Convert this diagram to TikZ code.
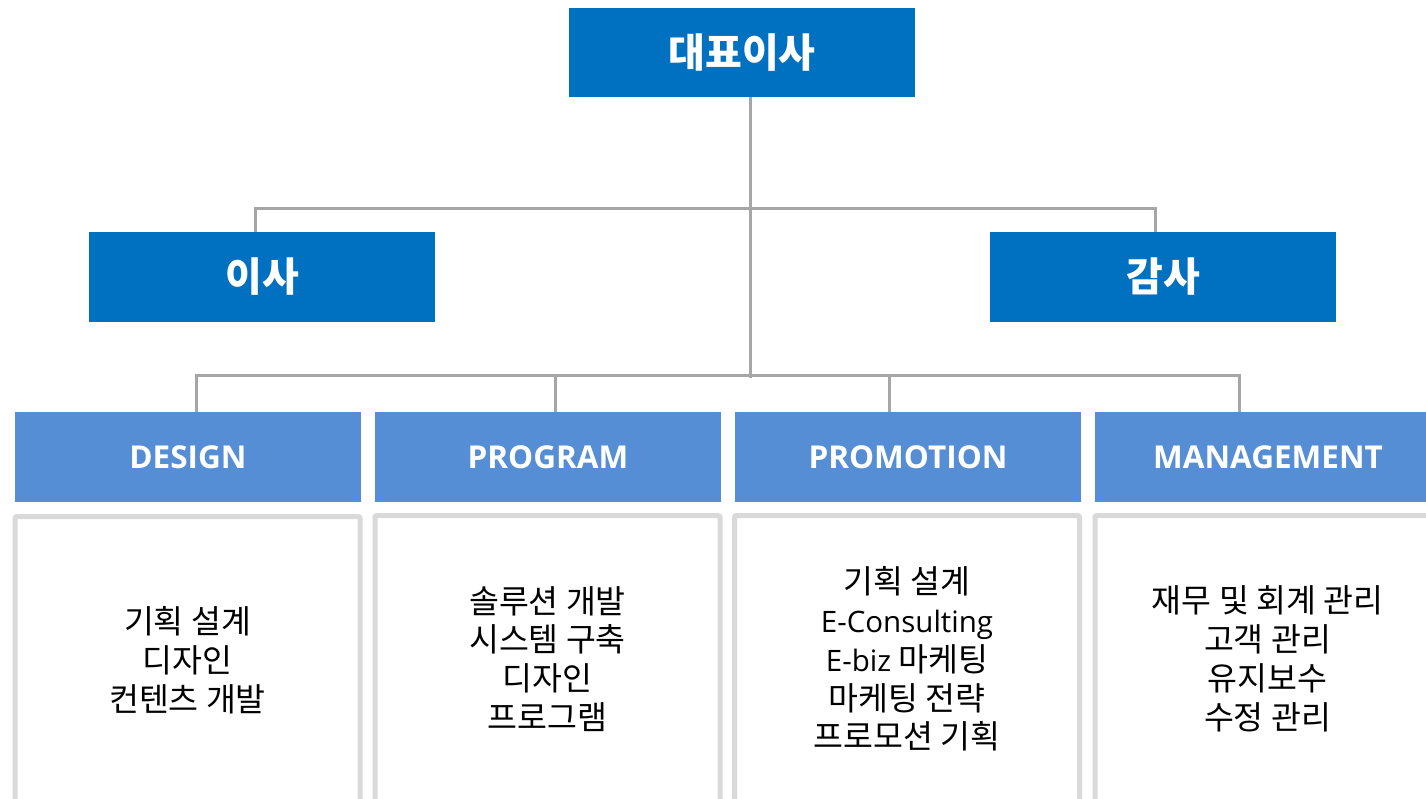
\documentclass[tikz,border=0pt]{standalone}
\usepackage{fontspec}
\setmainfont{Noto Sans CJK KR}
\newfontfamily\lat{Open Sans}
\newcommand\latin[1]{{\lat\fontsize{29.5}{38.8}\selectfont #1}}
\definecolor{topblue}{HTML}{0070C0}
\definecolor{deptblue}{HTML}{558ED5}
\definecolor{connGray}{HTML}{A6A6A6}
\definecolor{boxGray}{HTML}{D9D9D9}
\tikzset{
  topbox/.style={rectangle, fill=topblue, text=white, minimum width=346pt, minimum height=89pt, inner sep=0pt, font=\fontsize{40}{44}\selectfont\bfseries},
  deptbox/.style={rectangle, fill=deptblue, text=white, minimum width=346pt, minimum height=90pt, inner sep=0pt, font=\lat\fontsize{31.5}{34}\selectfont\bfseries},
  listbox/.style={rectangle, draw=boxGray, line width=5pt, rounded corners=2pt, minimum width=345pt, minimum height=287pt, inner sep=0pt, align=center, text=black, font=\fontsize{32.5}{38.8}\selectfont},
  conn/.style={draw=connGray, line width=3pt}
}
\begin{document}
\begin{tikzpicture}[x=1pt, y=-1pt]
\useasboundingbox (0,0) rectangle (1426,799);
\clip (0,0) rectangle (1426,799);
\fill[white] (0,0) rectangle (1426,799);

\coordinate (spine) at (750,378);
\coordinate (ul) at (255,209);
\coordinate (ur) at (1155,209);
\coordinate (ll) at (196,375);
\coordinate (c2) at (555,375);
\coordinate (c3) at (889,375);
\coordinate (lr) at (1239,375);

% top boxes
\node[topbox] (ceo) at (742,52.5) {대표이사};
\node[topbox, minimum height=90pt] (dir) at (262,277) {이사};
\node[topbox, minimum height=90pt] (aud) at (1163,277) {감사};

% department boxes
\node[deptbox] (design) at (188,457) {DESIGN};
\node[deptbox] (prog) at (548,457) {PROGRAM};
\node[deptbox] (promo) at (908,457) {PROMOTION};
\node[deptbox] (mgmt) at (1268,457) {MANAGEMENT};

% connectors
\draw[conn] (ceo.south -| spine) -- (spine);
\draw[conn] (dir.north -| ul) -- (ul) -- (ur) -- (aud.north -| ur);
\draw[conn] (design.north -| ll) -- (ll) -- (lr) -- (mgmt.north -| lr);
\draw[conn] (c2) -- (prog.north -| c2);
\draw[conn] (c3) -- (promo.north -| c3);

% list boxes
\node[listbox] (l1) at (187.5,660) {기획 설계\\디자인\\컨텐츠 개발};
\node[listbox] (l2) at (547.5,659) {솔루션 개발\\시스템 구축\\디자인\\프로그램};
\node[listbox] (l3) at (907,659) {기획 설계\\\latin{E-Consulting}\\\latin{E-biz} 마케팅\\마케팅 전략\\프로모션 기획};
\node[listbox] (l4) at (1267.5,659) {재무 및 회계 관리\\고객 관리\\유지보수\\수정 관리};
\end{tikzpicture}
\end{document}
